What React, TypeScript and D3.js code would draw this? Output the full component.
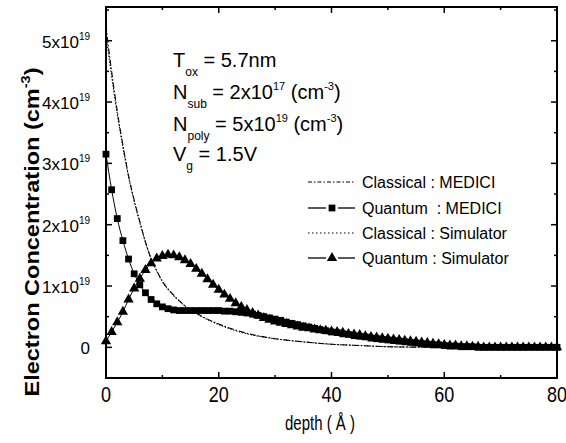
import * as d3 from 'd3';

// RENDERING SETUP
const W = 566;
const H = 443;
const PLOT = { LEFT: 106, RIGHT: 557, TOP: 7, BOTTOM: 378 };
const FONT = "'Liberation Sans', Arial, sans-serif";

// DATA (electron concentration in units of 1e19 cm^-3, depth in angstrom)
const X_TICKS = [0, 20, 40, 60, 80];
const X_MINOR = [10, 30, 50, 70];
const Y_TICKS = [0, 1, 2, 3, 4, 5];
const Y_MINOR = [0.5, 1.5, 2.5, 3.5, 4.5, 5.5];

const CLASSICAL_DEPTH = [0, 0.5, 1, 2, 3, 4, 5, 6, 7, 8, 9, 10, 12, 14, 16, 18, 20, 22, 25, 30, 35, 40, 45, 50, 60, 70, 80];
const CLASSICAL_MEDICI = [5.25, 4.85, 4.5, 3.85, 3.3, 2.8, 2.4, 2.05, 1.72, 1.45, 1.25, 1.08, 0.85, 0.68, 0.56, 0.46, 0.38, 0.31, 0.23, 0.14, 0.09, 0.05, 0.03, 0.01, 0, 0, 0];
const CLASSICAL_SIM = [5.1, 4.75, 4.42, 3.8, 3.26, 2.78, 2.38, 2.03, 1.71, 1.44, 1.24, 1.07, 0.84, 0.67, 0.55, 0.45, 0.37, 0.3, 0.22, 0.14, 0.09, 0.05, 0.03, 0.01, 0, 0, 0];

const QUANTUM_DEPTH = [
  0, 1, 2, 3, 4, 5, 6, 7, 8, 9, 10, 11, 12, 13, 14, 15, 16, 17, 18, 19, 20,
  21, 22, 23, 24, 25, 26, 27, 28, 29, 30, 31, 32, 33, 34, 35, 36, 37, 38, 39, 40,
  41, 42, 43, 44, 45, 46, 47, 48, 49, 50, 51, 52, 53, 54, 55, 56, 57, 58, 59, 60,
  61, 62, 63, 64, 65, 66, 67, 68, 69, 70, 71, 72, 73, 74, 75, 76, 77, 78, 79, 80,
];
const QUANTUM_MEDICI = [
  3.15, 2.57, 2.1, 1.74, 1.44, 1.2, 1.02, 0.89, 0.78, 0.71, 0.66, 0.63, 0.61, 0.6, 0.6, 0.6, 0.6, 0.6, 0.6, 0.6, 0.6,
  0.59, 0.59, 0.58, 0.57, 0.56, 0.54, 0.52, 0.5, 0.48, 0.46, 0.44, 0.41, 0.39, 0.37, 0.35, 0.33, 0.31, 0.29, 0.27, 0.25,
  0.24, 0.22, 0.21, 0.19, 0.18, 0.17, 0.15, 0.14, 0.13, 0.12, 0.11, 0.1, 0.09, 0.08, 0.07, 0.06, 0.05, 0.04, 0.04, 0.03,
  0.02, 0.02, 0.01, 0.01, 0.01, 0, 0, 0, 0, 0, 0, 0, 0, 0, 0, 0, 0, 0, 0, 0,
];
const QUANTUM_SIM = [
  0.1, 0.25, 0.41, 0.58, 0.78, 0.96, 1.12, 1.26, 1.37, 1.45, 1.49, 1.51, 1.5, 1.47, 1.42, 1.36, 1.28, 1.2, 1.11, 1.02, 0.94,
  0.86, 0.79, 0.72, 0.66, 0.61, 0.56, 0.52, 0.48, 0.45, 0.42, 0.4, 0.38, 0.36, 0.34, 0.32, 0.31, 0.29, 0.28, 0.27, 0.26,
  0.25, 0.24, 0.22, 0.21, 0.2, 0.18, 0.17, 0.16, 0.15, 0.14, 0.13, 0.12, 0.11, 0.1, 0.09, 0.08, 0.07, 0.06, 0.05, 0.04,
  0.03, 0.03, 0.02, 0.02, 0.01, 0.01, 0, 0, 0, 0, 0, 0, 0, 0, 0, 0, 0, 0, 0, 0,
];

const LEGEND = [
  'Classical : MEDICI',
  'Quantum  : MEDICI',
  'Classical : Simulator',
  'Quantum : Simulator',
];

const x = d3.scaleLinear().domain([0, 80]).range([PLOT.LEFT, PLOT.RIGHT]);
const y = d3.scaleLinear().domain([-0.5, 5.55]).range([PLOT.BOTTOM, PLOT.TOP]);

const lineOf = (xs: number[], ys: number[]) =>
  d3
    .line<number>()
    .x((d, i) => x(xs[i]))
    .y((d) => y(d))
    .curve(d3.curveMonotoneX)(ys) || '';

const squarePath = d3.symbol().type(d3.symbolSquare).size(46)() || '';
const trianglePath = d3.symbol().type(d3.symbolTriangle).size(46)() || '';

const App = () => {
  const legendY = [188, 214, 239, 264];
  return (
    <svg
      width={W}
      height={H}
      style={{ position: 'absolute', left: 0, top: 0, background: '#fff' }}
      fontFamily={FONT}
    >
      <rect x={0} y={0} width={W} height={H} fill="#fff" />

      {/* curves */}
      <path d={lineOf(CLASSICAL_DEPTH, CLASSICAL_MEDICI)} fill="none" stroke="#000" strokeWidth={1.1} strokeDasharray="6,2,1.5,2" />
      <path d={lineOf(CLASSICAL_DEPTH, CLASSICAL_SIM)} fill="none" stroke="#000" strokeWidth={1} strokeDasharray="1.5,1.5" />
      <path d={lineOf(QUANTUM_DEPTH, QUANTUM_MEDICI)} fill="none" stroke="#000" strokeWidth={1} />
      <path d={lineOf(QUANTUM_DEPTH, QUANTUM_SIM)} fill="none" stroke="#000" strokeWidth={1} />
      {QUANTUM_DEPTH.map((d, i) => (
        <path key={`s${i}`} d={squarePath} transform={`translate(${x(d)},${y(QUANTUM_MEDICI[i])})`} fill="#000" />
      ))}
      {QUANTUM_DEPTH.map((d, i) => (
        <path key={`t${i}`} d={trianglePath} transform={`translate(${x(d)},${y(QUANTUM_SIM[i])})`} fill="#000" />
      ))}

      {/* frame */}
      <rect
        x={PLOT.LEFT}
        y={PLOT.TOP}
        width={PLOT.RIGHT - PLOT.LEFT}
        height={PLOT.BOTTOM - PLOT.TOP}
        fill="none"
        stroke="#000"
        strokeWidth={2}
      />

      {/* x ticks, bottom and top, pointing inward */}
      {X_TICKS.map((t) => (
        <g key={`xt${t}`}>
          <line x1={x(t)} x2={x(t)} y1={PLOT.BOTTOM} y2={PLOT.BOTTOM - 6} stroke="#000" strokeWidth={1.5} />
          <line x1={x(t)} x2={x(t)} y1={PLOT.TOP} y2={PLOT.TOP + 6} stroke="#000" strokeWidth={1.5} />
          <text
            transform={`translate(${x(t)},402) scale(1,1.25)`}
            textAnchor="middle"
            fontSize={18}
          >
            {t}
          </text>
        </g>
      ))}
      {X_MINOR.map((t) => (
        <g key={`xm${t}`}>
          <line x1={x(t)} x2={x(t)} y1={PLOT.BOTTOM} y2={PLOT.BOTTOM - 3} stroke="#000" strokeWidth={1.5} />
          <line x1={x(t)} x2={x(t)} y1={PLOT.TOP} y2={PLOT.TOP + 3} stroke="#000" strokeWidth={1.5} />
        </g>
      ))}

      {/* y ticks, left and right, pointing inward */}
      {Y_TICKS.map((t) => (
        <g key={`yt${t}`}>
          <line x1={PLOT.LEFT} x2={PLOT.LEFT + 6} y1={y(t)} y2={y(t)} stroke="#000" strokeWidth={1.5} />
          <line x1={PLOT.RIGHT} x2={PLOT.RIGHT - 6} y1={y(t)} y2={y(t)} stroke="#000" strokeWidth={1.5} />
          <text x={90} y={y(t) + 7} textAnchor="end" fontSize={17}>
            {t === 0 ? (
              '0'
            ) : (
              <>
                {`${t}x10`}
                <tspan dy={-8} fontSize={10}>
                  19
                </tspan>
              </>
            )}
          </text>
        </g>
      ))}
      {Y_MINOR.map((t) => (
        <g key={`ym${t}`}>
          <line x1={PLOT.LEFT} x2={PLOT.LEFT + 3} y1={y(t)} y2={y(t)} stroke="#000" strokeWidth={1.5} />
          <line x1={PLOT.RIGHT} x2={PLOT.RIGHT - 3} y1={y(t)} y2={y(t)} stroke="#000" strokeWidth={1.5} />
        </g>
      ))}

      {/* axis titles */}
      <text transform="translate(39,232) rotate(-90) scale(1.12,1)" textAnchor="middle" fontSize={21} fontWeight="bold">
        Electron Concentration (cm
        <tspan dy={-9} fontSize={13}>
          -3
        </tspan>
        <tspan dy={9}>)</tspan>
      </text>
      <text transform="translate(320,430) scale(1,1.35)" textAnchor="middle" fontSize={15}>
        depth ( Å )
      </text>

      {/* annotation */}
      <g fontSize={20}>
        <text x={173} y={67}>
          T<tspan dy={9} fontSize={12}>ox</tspan>
          <tspan dy={-9}> = 5.7nm</tspan>
        </text>
        <text x={173} y={99}>
          N<tspan dy={9} fontSize={12}>sub</tspan>
          <tspan dy={-9}> = 2x10</tspan>
          <tspan dy={-9} fontSize={11}>17</tspan>
          <tspan dy={9}> (cm</tspan>
          <tspan dy={-9} fontSize={11}>-3</tspan>
          <tspan dy={9}>)</tspan>
        </text>
        <text x={173} y={131}>
          N<tspan dy={9} fontSize={12}>poly</tspan>
          <tspan dy={-9}> = 5x10</tspan>
          <tspan dy={-9} fontSize={11}>19</tspan>
          <tspan dy={9}> (cm</tspan>
          <tspan dy={-9} fontSize={11}>-3</tspan>
          <tspan dy={9}>)</tspan>
        </text>
        <text x={173} y={161}>
          V<tspan dy={9} fontSize={12}>g</tspan>
          <tspan dy={-9}> = 1.5V</tspan>
        </text>
      </g>

      {/* legend */}
      <g>
        <line x1={308} x2={355} y1={legendY[0] - 6} y2={legendY[0] - 6} stroke="#000" strokeWidth={1} strokeDasharray="4,2,1.5,2" />
        <line x1={308} x2={326} y1={legendY[1] - 6} y2={legendY[1] - 6} stroke="#000" strokeWidth={1.3} />
        <line x1={338} x2={355} y1={legendY[1] - 6} y2={legendY[1] - 6} stroke="#000" strokeWidth={1.3} />
        <path d={squarePath} transform={`translate(332,${legendY[1] - 6})`} fill="#000" />
        <line x1={308} x2={355} y1={legendY[2] - 6} y2={legendY[2] - 6} stroke="#000" strokeWidth={1} strokeDasharray="1.5,2.5" />
        <line x1={308} x2={326} y1={legendY[3] - 6} y2={legendY[3] - 6} stroke="#000" strokeWidth={1.3} />
        <line x1={338} x2={355} y1={legendY[3] - 6} y2={legendY[3] - 6} stroke="#000" strokeWidth={1.3} />
        <path d={trianglePath} transform={`translate(332,${legendY[3] - 6})`} fill="#000" />
        {LEGEND.map((s, i) => (
          <text key={s} x={362} y={legendY[i]} fontSize={16} style={{ whiteSpace: 'pre' }}>
            {s}
          </text>
        ))}
      </g>
    </svg>
  );
};

export default App;
